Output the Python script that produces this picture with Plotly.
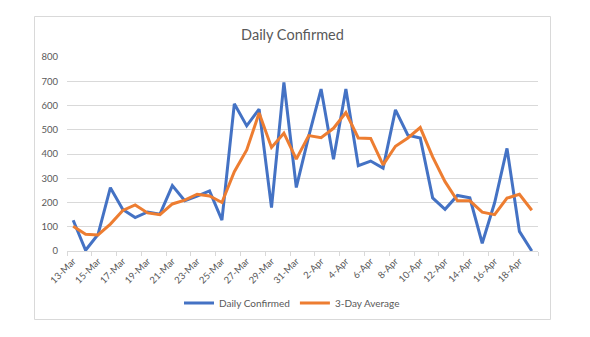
import plotly.graph_objects as go

dates = ["13-Mar", "14-Mar", "15-Mar", "16-Mar", "17-Mar", "18-Mar", "19-Mar", "20-Mar",
         "21-Mar", "22-Mar", "23-Mar", "24-Mar", "25-Mar", "26-Mar", "27-Mar", "28-Mar",
         "29-Mar", "30-Mar", "31-Mar", "1-Apr", "2-Apr", "3-Apr", "4-Apr", "5-Apr",
         "6-Apr", "7-Apr", "8-Apr", "9-Apr", "10-Apr", "11-Apr", "12-Apr", "13-Apr",
         "14-Apr", "15-Apr", "16-Apr", "17-Apr", "18-Apr", "19-Apr"]

daily_confirmed = [127, 3, 68, 261, 171, 138, 161, 152, 270, 207, 226, 248, 127, 607,
                   516, 585, 179, 695, 262, 473, 668, 378, 668, 352, 371, 342, 582, 478,
                   466, 219, 172, 229, 219, 32, 199, 423, 81, 0]

three_day_avg = [102, 69, 66, 111, 167, 190, 157, 150, 194, 210, 234, 227, 200, 327,
                 417, 569, 427, 486, 379, 476, 467, 506, 571, 466, 464, 355, 432, 466,
                 509, 388, 286, 207, 207, 160, 150, 218, 234, 168]

y_ticks = [0, 100, 200, 300, 400, 500, 600, 700, 800]

FONT = "Lato"
GRAY = "#595959"
GRID = "#d9d9d9"

fig = go.Figure()
fig.add_trace(go.Scatter(x=dates, y=daily_confirmed, mode="lines", name="Daily Confirmed",
                         line=dict(color="#4472C4", width=3)))
fig.add_trace(go.Scatter(x=dates, y=three_day_avg, mode="lines", name="3-Day Average",
                         line=dict(color="#ED7D31", width=3)))

L, R, T, B = 67, 52, 57, 86
pw = 590 - L - R
ph = 337 - T - B

def px_x(p):
    return (p - L) / pw

def px_y(p):
    return (337 - B - p) / ph

fig.add_shape(type="rect", xref="paper", yref="paper",
              x0=px_x(34.5), x1=px_x(550.5), y0=px_y(319.5), y1=px_y(16.5),
              line=dict(color=GRID, width=1), fillcolor="rgba(0,0,0,0)", layer="below")

fig.update_layout(
    width=590, height=337,
    margin=dict(l=L, r=R, t=T, b=B),
    paper_bgcolor="white", plot_bgcolor="white",
    font=dict(family=FONT, color=GRAY, size=10),
    title=dict(text="Daily Confirmed", x=292.5 / 590, xanchor="center",
               y=1 - 35 / 337, yanchor="middle", xref="container", yref="container",
               font=dict(family=FONT, size=14.5, color=GRAY)),
    showlegend=True,
    legend=dict(orientation="h", x=px_x(292), xanchor="center", y=px_y(303), yanchor="middle",
                font=dict(family=FONT, size=10, color=GRAY), itemwidth=30,
                bgcolor="rgba(0,0,0,0)"),
    xaxis=dict(type="category", categoryorder="array", categoryarray=dates,
               range=[-0.5, len(dates) - 0.5], dtick=2, tickson="boundaries",
               ticks="outside", ticklen=4, tickcolor=GRID, tickangle=-45,
               showgrid=False, showline=True, linecolor=GRID, linewidth=1,
               tickfont=dict(family=FONT, size=9.5, color=GRAY), fixedrange=True),
    yaxis=dict(range=[0, 800], tickvals=y_ticks, showgrid=True, gridcolor=GRID, gridwidth=1,
               zeroline=False, showline=False, ticks="", ticklabelstandoff=8,
               tickfont=dict(family=FONT, size=9.5, color=GRAY), fixedrange=True),
)

fig.write_html("out.html")
